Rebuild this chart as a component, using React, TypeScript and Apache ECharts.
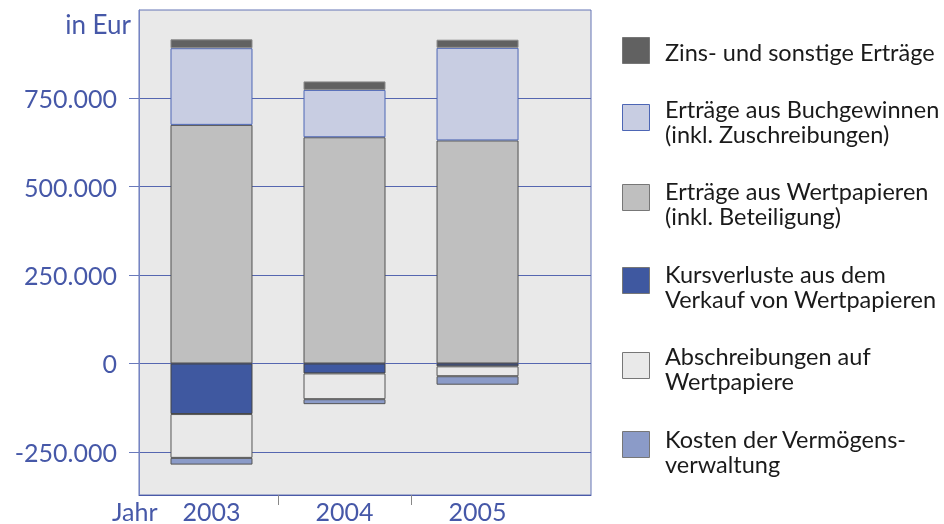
import React, { useEffect, useRef } from 'react';
import * as echarts from 'echarts';

const years = ['2003', '2004', '2005'];
const yearSlots = [0, 1, 2];
const yTickValues = [-250000, 0, 250000, 500000, 750000];

const wertpapiere = [675000, 640000, 631000];
const buchgewinne = [217000, 134000, 262000];
const zins = [25000, 24000, 23000];
const kursverluste = [-143000, -28000, -8000];
const abschreibungen = [-124000, -73000, -28000];
const kosten = [-19000, -14000, -24000];

const nameZins = 'Zins- und sonstige Erträge';
const nameBuch = 'Erträge aus Buchgewinnen\n(inkl. Zuschreibungen)';
const nameWert = 'Erträge aus Wertpapieren\n(inkl. Beteiligung)';
const nameKurs = 'Kursverluste aus dem\nVerkauf von Wertpapieren';
const nameAbsch = 'Abschreibungen auf\nWertpapiere';
const nameKosten = 'Kosten der Vermögens-\nverwaltung';

const AXIS_COLOR = '#4658a8';
const FONT = 'Lato';

const seriesDefs = [
  { name: nameWert, values: wertpapiere, fill: '#bfbfbf', stroke: '#505050' },
  { name: nameBuch, values: buchgewinne, fill: '#c8cde2', stroke: '#4d66b5' },
  { name: nameZins, values: zins, fill: '#616161', stroke: '#8a8a8a' },
  { name: nameKurs, values: kursverluste, fill: '#3f58a0', stroke: '#444444' },
  { name: nameAbsch, values: abschreibungen, fill: '#e9e9e9', stroke: '#555555' },
  { name: nameKosten, values: kosten, fill: '#8b9bc8', stroke: '#555555' },
];

const legendOrder = [nameZins, nameBuch, nameWert, nameKurs, nameAbsch, nameKosten];
const legendSquareTops = [37, 104, 184, 267, 352, 431];
const legendTextTops = [39.5, 96, 178, 261, 343, 426];

function fmt(v: number): string {
  return String(v).replace(/\B(?=(\d{3})+(?!\d))/g, '.');
}

export default function App() {
  const ref = useRef<HTMLDivElement>(null);
  useEffect(() => {
    const chart = echarts.init(ref.current!, null, { renderer: 'svg' });
    const series = seriesDefs.map((d) => ({
      type: 'bar',
      name: d.name,
      stack: 'total',
      barWidth: 82,
      encode: { x: 1, y: 0 },
      data: yearSlots.map((x, i) => [d.values[i], x]),
      itemStyle: { color: d.fill, borderColor: d.stroke, borderWidth: 1 },
      emphasis: { disabled: true },
    }));

    const graphics: any[] = [
      {
        type: 'text',
        x: 131,
        y: 24,
        style: { text: 'in Eur', fill: AXIS_COLOR, fontSize: 26, fontFamily: FONT, align: 'right', verticalAlign: 'middle' },
      },
      {
        type: 'text',
        x: 112,
        y: 511,
        style: { text: 'Jahr', fill: AXIS_COLOR, fontSize: 25, fontFamily: FONT, align: 'left', verticalAlign: 'middle' },
      },
    ];
    legendOrder.forEach((name, i) => {
      const def = seriesDefs.find((d) => d.name === name)!;
      graphics.push({
        type: 'rect',
        shape: { x: 622.5, y: legendSquareTops[i] + 0.5, width: 27, height: 26 },
        style: { fill: def.fill, stroke: name === nameBuch ? '#4d66b5' : '#777777', lineWidth: 1 },
      });
      graphics.push({
        type: 'text',
        x: 665,
        y: legendTextTops[i],
        style: { text: name, fill: '#1a1a1a', fontSize: 23.5, fontFamily: FONT, lineHeight: 25, align: 'left', verticalAlign: 'top' },
      });
    });

    chart.setOption({
      animation: false,
      grid: {
        left: 139,
        right: 353,
        top: 10,
        bottom: 29,
        show: true,
        backgroundColor: '#e9e9e9',
        borderColor: '#6575b5',
        borderWidth: 1,
      },
      xAxis: {
        type: 'value',
        min: -0.545,
        max: 2.853,
        axisLine: { show: true, onZero: false, lineStyle: { color: '#4a5aa8', width: 1 } },
        axisTick: { show: true, customValues: [0.5, 1.5], length: 10, lineStyle: { color: '#888888' } },
        axisLabel: {
          customValues: yearSlots,
          formatter: (v: number) => years[Math.round(v)] ?? '',
          color: AXIS_COLOR,
          fontSize: 25,
          fontFamily: FONT,
          margin: 3,
        },
        splitLine: { show: false },
      },
      yAxis: {
        type: 'value',
        min: -372000,
        max: 1000000,
        axisLine: { show: true, onZero: false, lineStyle: { color: '#7584c4', width: 1 } },
        axisTick: { show: true, customValues: yTickValues, length: 10, lineStyle: { color: '#6a7abc' } },
        axisLabel: {
          customValues: yTickValues,
          formatter: (v: number) => fmt(v),
          color: AXIS_COLOR,
          fontSize: 25,
          fontFamily: FONT,
          margin: 22,
        },
        splitLine: { show: true, lineStyle: { color: '#5566b0', width: 1 } },
      },
      series,
      graphic: graphics,
    });
    return () => chart.dispose();
  }, []);
  return <div ref={ref} style={{ position: 'fixed', left: 0, top: 0, width: 944, height: 524 }} />;
}
